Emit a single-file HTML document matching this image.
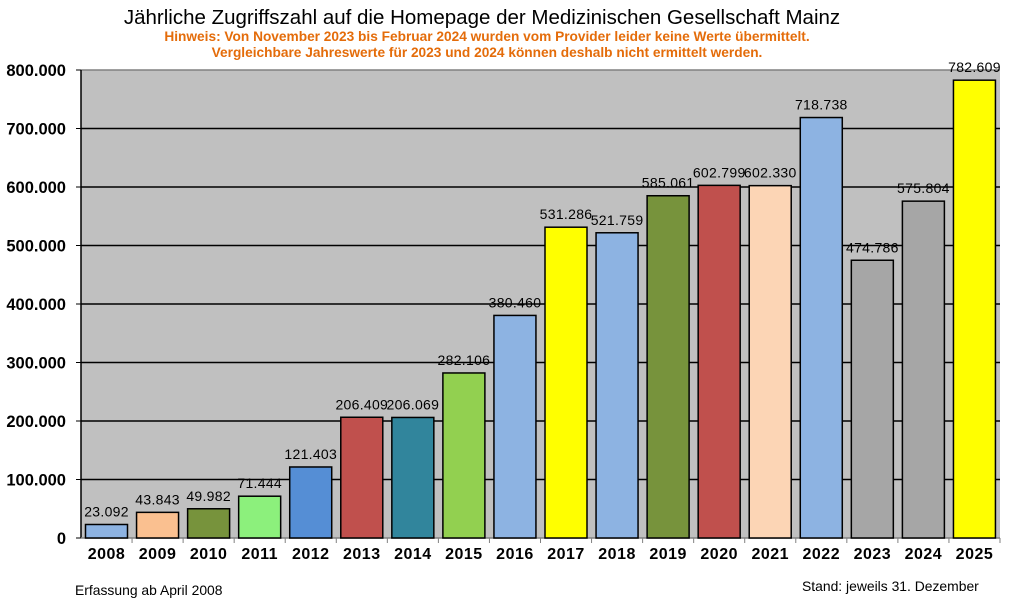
<!DOCTYPE html>
<html><head><meta charset="utf-8">
<style>
html,body{margin:0;padding:0;background:#fff;}
svg{display:block;font-family:"Liberation Sans",Arial,sans-serif;}
</style></head>
<body>
<svg id="c" width="1024" height="600" viewBox="0 0 1024 600" xmlns="http://www.w3.org/2000/svg">
<text x="482" y="24" font-size="20.5" text-anchor="middle" fill="#000">Jährliche Zugriffszahl auf die Homepage der Medizinischen Gesellschaft Mainz</text>
<text x="487" y="41" font-size="13.7" font-weight="bold" text-anchor="middle" fill="#e46c0a">Hinweis: Von November 2023 bis Februar 2024 wurden vom Provider leider keine Werte übermittelt.</text>
<text x="487" y="57" font-size="13.7" font-weight="bold" text-anchor="middle" fill="#e46c0a">Vergleichbare Jahreswerte für 2023 und 2024 können deshalb nicht ermittelt werden.</text>
<rect x="81" y="70" width="919" height="468" fill="#c0c0c0"/>
<line x1="81" y1="70" x2="1000" y2="70" stroke="#808080" stroke-width="1.5"/>
<text x="75" y="595" font-size="13.9" fill="#000">Erfassung ab April 2008</text>
<text x="802" y="591" font-size="13.9" fill="#000">Stand: jeweils 31. Dezember</text>
</svg>
<script>
var s=document.getElementById('c'),ns='http://www.w3.org/2000/svg';
function el(t,a,txt){var e=document.createElementNS(ns,t);for(var k in a)e.setAttribute(k,a[k]);if(txt!=null)e.textContent=txt;s.appendChild(e);return e;}
var y0=538,k=468/800000,L=81,cw=919/18;
for(var i=0;i<=8;i++){var y=y0-i*58.5;
 if(i>0&&i<8)el('line',{x1:L,y1:y,x2:1000,y2:y,stroke:'#000','stroke-width':1.5});
 el('line',{x1:L-5,y1:y,x2:L,y2:y,stroke:'#000','stroke-width':1});
 el('text',{x:66,y:y+6,'font-size':16.5,'font-weight':'bold','text-anchor':'end'},i==0?'0':(i*100)+'.000');}
el('line',{x1:L,y1:70,x2:L,y2:y0,stroke:'#000','stroke-width':1.5});
el('line',{x1:L,y1:y0,x2:1000,y2:y0,stroke:'#808080','stroke-width':1.5});
var d=[[2008,23092,'#8db3e2'],[2009,43843,'#fac090'],[2010,49982,'#77933c'],[2011,71444,'#8cf07c'],[2012,121403,'#558ed5'],[2013,206409,'#c0504d'],[2014,206069,'#31859c'],[2015,282106,'#92d050'],[2016,380460,'#8db3e2'],[2017,531286,'#ffff00'],[2018,521759,'#8db3e2'],[2019,585061,'#77933c'],[2020,602799,'#c0504d'],[2021,602330,'#fcd5b5'],[2022,718738,'#8db3e2'],[2023,474786,'#a6a6a6'],[2024,575804,'#a6a6a6'],[2025,782609,'#ffff00']];
d.forEach(function(r,i){var x=L+i*cw,h=r[1]*k,cx=x+cw/2;
 el('rect',{x:x+4.5,y:y0-h,width:42,height:h,fill:r[2],stroke:'#000','stroke-width':1.5});
 el('line',{x1:x+cw,y1:y0,x2:x+cw,y2:y0+5,stroke:'#808080','stroke-width':1});
 var v=String(r[1]);v=v.length>3?v.slice(0,-3)+'.'+v.slice(-3):v;
 el('text',{x:cx,y:y0-h-8,'font-size':14,'text-anchor':'middle','letter-spacing':'0.3'},v);
 el('text',{x:cx,y:y0+21,'font-size':16,'font-weight':'bold','text-anchor':'middle','letter-spacing':'0.5'},r[0]);});
</script>
</body></html>
